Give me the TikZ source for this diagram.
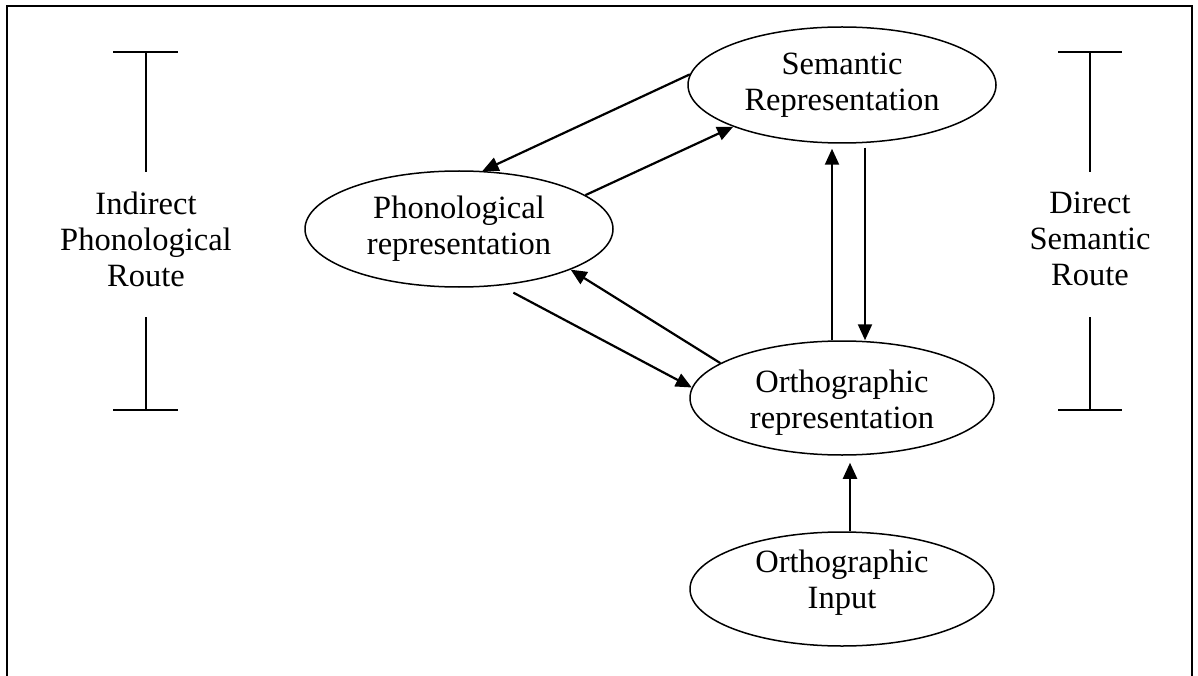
\documentclass[tikz,border=0pt]{standalone}
\usepackage{fontspec}
\setmainfont{Liberation Serif}
\usetikzlibrary{arrows.meta,shapes.geometric,positioning,calc}

\begin{document}
\begin{tikzpicture}[x=1pt,y=-1pt,>={Triangle[length=16pt,width=14pt]},
  rep/.style={ellipse,draw,line width=1.5pt,inner sep=0pt,minimum width=308pt,
    minimum height=116pt,align=center,font=\fontsize{32.5}{36}\selectfont},
  route/.style={align=center,font=\fontsize{32.5}{36}\selectfont},
  link/.style={->,line width=2.2pt}]
  \useasboundingbox (0,0) rectangle (1198,676);
  \draw[line width=2.2pt] (7,676) -- (7,6) -- (1192,6) -- (1192,676);

  \node[rep] (sem) at (842,85) {Semantic\\Representation};
  \node[rep] (phon) at (459,229) {Phonological\\representation};
  \node[rep,minimum width=304pt,minimum height=114pt,text height=68pt] (orth) at (842,398) {Orthographic\\representation};
  \node[rep,minimum width=304pt,minimum height=114pt,text depth=19pt] (input) at (842,589) {Orthographic\\Input};

  \node[route] (indirect) at (146,239) {Indirect\\Phonological\\Route};
  \node[route] (direct) at (1090,239) {Direct\\Semantic\\Route};

  % route brackets
  \draw[line width=1.8pt] (113,52) -- (178,52) (146,52) -- (146,172)
    (146,317) -- (146,410) (113,410) -- (178,410);
  \draw[line width=1.8pt] (1058,52) -- (1122,52) (1090,52) -- (1090,172)
    (1090,317) -- (1090,410) (1058,410) -- (1122,410);

  \path[link]
    (sem.176) edge (phon.68)
    (phon.15) edge (sem.201)
    (phon.-54) edge[shorten <=15pt] (orth.176)
    (orth.164) edge (phon.-20)
    ([xshift=-10pt]orth.north) edge[shorten >=5pt] ([xshift=-10pt]sem.south)
    ([xshift=23pt]sem.south) edge[shorten <=4pt] ([xshift=23pt]orth.north)
    ([xshift=8pt]input.north) edge[shorten >=7pt] ([xshift=8pt]orth.south);
\end{tikzpicture}
\end{document}
